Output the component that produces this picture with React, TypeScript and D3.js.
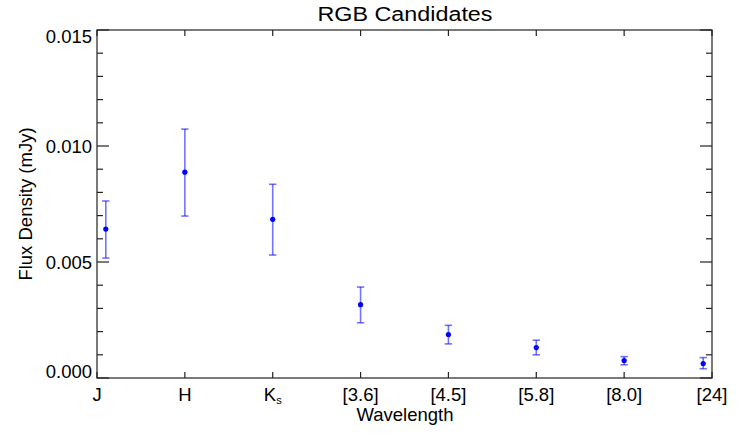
import React from "react";
import * as d3 from "d3";

const categories = ["J", "H", "Ks", "[3.6]", "[4.5]", "[5.8]", "[8.0]", "[24]"];
const pointPos = [0.1, 1, 2, 3, 4, 5, 6, 6.9];
const fluxValues = [0.00642, 0.00887, 0.00684, 0.00316, 0.00187, 0.00131, 0.00075, 0.00062];
const errLow = [0.00517, 0.00698, 0.0053, 0.00238, 0.00147, 0.001, 0.00057, 0.0004];
const errHigh = [0.00763, 0.01073, 0.00835, 0.00392, 0.00227, 0.00163, 0.00092, 0.00088];
const yMajorTicks = [0, 0.005, 0.01, 0.015];
const yTickLabels = ["0.000", "0.005", "0.010", "0.015"];

const W = 742, H = 441;
const L = 97, R = 712, T = 30, B = 378;

export default function App() {
  const x = d3.scaleLinear().domain([0, categories.length - 1]).range([L, R]);
  const y = d3.scaleLinear().domain([0, 0.015]).range([B, T]);
  const minor = d3.range(0, 0.0151, 0.001).filter((v) => !yMajorTicks.some((m) => Math.abs(m - v) < 1e-9));
  const font = "'Liberation Sans', Arial, Helvetica, sans-serif";
  const ax = "#222";
  const lineW = 1.2;
  return (
    <svg width={W} height={H} style={{ position: "absolute", left: 0, top: 0, background: "#fff" }} fontFamily={font}>
      <text x={405} y={21} fontSize={20} textAnchor="middle" textLength={175} lengthAdjust="spacingAndGlyphs" fill="#000">RGB Candidates</text>
      {/* frame */}
      <rect x={L} y={T} width={R - L} height={B - T} fill="none" stroke={ax} strokeWidth={lineW} />
      {/* y major ticks */}
      {yMajorTicks.map((v, i) => (
        <g key={"ym" + i}>
          <line x1={L} x2={L + 12} y1={y(v)} y2={y(v)} stroke={ax} strokeWidth={lineW} />
          <line x1={R} x2={R - 12} y1={y(v)} y2={y(v)} stroke={ax} strokeWidth={lineW} />
          <text
            x={92}
            y={i === 0 ? y(v) : i === yMajorTicks.length - 1 ? y(v) + 12.5 : y(v) + 6.5}
            fontSize={18.5}
            textAnchor="end"
            fill="#000"
          >
            {yTickLabels[i]}
          </text>
        </g>
      ))}
      {minor.map((v, i) => (
        <g key={"yn" + i}>
          <line x1={L} x2={L + 6} y1={y(v)} y2={y(v)} stroke={ax} strokeWidth={lineW} />
          <line x1={R} x2={R - 6} y1={y(v)} y2={y(v)} stroke={ax} strokeWidth={lineW} />
        </g>
      ))}
      {/* x ticks */}
      {categories.map((c, i) => (
        <g key={"x" + i}>
          <line x1={x(i)} x2={x(i)} y1={B} y2={B - 6} stroke={ax} strokeWidth={lineW} />
          <line x1={x(i)} x2={x(i)} y1={T} y2={T + 6} stroke={ax} strokeWidth={lineW} />
          {c === "Ks" ? (
            <text x={x(i)} y={401} fontSize={18.5} textAnchor="middle" fill="#000">
              K<tspan fontSize={11} dy={3}>s</tspan>
            </text>
          ) : (
            <text x={x(i)} y={401} fontSize={18.5} textAnchor="middle" fill="#000">{c}</text>
          )}
        </g>
      ))}
      <text x={405} y={421} fontSize={18.5} textAnchor="middle" fill="#000">Wavelength</text>
      <text transform={`translate(32,${(T + B) / 2}) rotate(-90)`} fontSize={18.5} textAnchor="middle" fill="#000">Flux Density (mJy)</text>
      {/* error bars */}
      {fluxValues.map((v, i) => {
        const cx = x(pointPos[i]);
        return (
          <g key={"e" + i} stroke="#0000ff" strokeOpacity={0.55} strokeWidth={1.6}>
            <line x1={cx} x2={cx} y1={y(errLow[i])} y2={y(errHigh[i])} />
            <line x1={cx - 3.7} x2={cx + 3.7} y1={y(errLow[i])} y2={y(errLow[i])} />
            <line x1={cx - 3.7} x2={cx + 3.7} y1={y(errHigh[i])} y2={y(errHigh[i])} />
          </g>
        );
      })}
      {fluxValues.map((v, i) => (
        <circle key={"p" + i} cx={x(pointPos[i])} cy={y(v)} r={2.6} fill="#0000ff" />
      ))}
    </svg>
  );
}
